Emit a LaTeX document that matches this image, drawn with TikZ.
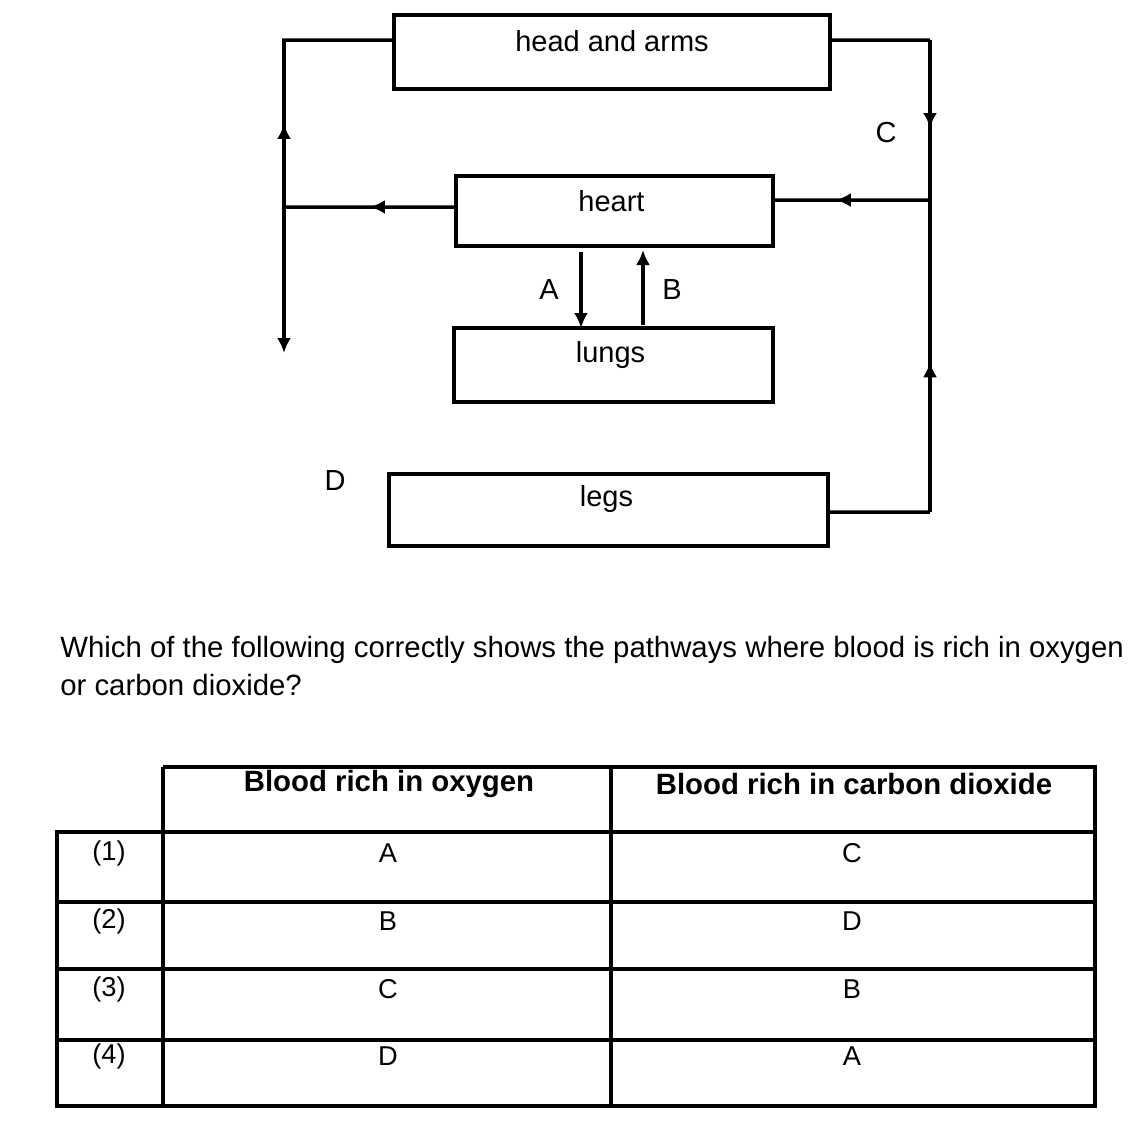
\documentclass[tikz,border=0pt]{standalone}
\usepackage{fontspec}
\setmainfont{Liberation Sans}
\usetikzlibrary{arrows.meta, positioning, calc, decorations.markings}

\begin{document}
\begin{tikzpicture}[x=0.2mm, y=-0.2mm,
  organ/.style={rectangle, draw, line width=2.4pt, inner sep=0pt, outer sep=0pt},
  otext/.style={font=\fontsize{16.5}{19}\selectfont, inner sep=1pt},
  conn/.style={line width=2pt},
  tip/.style={-{Latex[length=3mm, width=2.8mm]}},
  midarrow/.style={postaction={decorate}, decoration={markings,
      mark=at position #1 with {\arrow{Latex[length=3mm, width=2.8mm]}}}},
  midarrow/.default=0.5,
  question/.style={font=\fontsize{16.7}{21.5}\selectfont, align=left, inner sep=0pt},
  rule/.style={line width=2.3pt},
  head/.style={font=\bfseries\fontsize{16.7}{19}\selectfont},
  cell/.style={font=\fontsize{15.5}{18}\selectfont}
]
\useasboundingbox (0,0) rectangle (1132,1138);

% organs
\node[organ, minimum width=87.2mm, minimum height=14.8mm] (head) at (612,52) {};
\node[organ, minimum width=63.4mm, minimum height=14mm] (heart) at (614.5,211) {};
\node[organ, minimum width=63.8mm, minimum height=14.8mm] (lungs) at (613.5,365) {};
\node[organ, minimum width=87.8mm, minimum height=14.4mm] (legs) at (608.5,510) {};
\node[otext] (headtxt) at ($(head.north)+(0,26)$) {head and arms};
\node[otext] (hearttxt) at ($(heart.north)+(-3,25)$) {heart};
\node[otext] (lungstxt) at ($(lungs.north)+(-3,27)$) {lungs};
\node[otext] (legstxt) at ($(legs.north)+(-2,25)$) {legs};

% left side
\coordinate (ltop) at (284,40);
\coordinate (ljoin) at (284,207);
\coordinate (lend) at (284,353);
\draw[conn, midarrow=0.5] ($(heart.north west)+(0,31)$) -- (ljoin);
\draw[conn, midarrow=0.3] (ljoin) -- (ltop) -- ($(head.north west)+(0,25)$);
\draw[conn, tip] (ljoin) -- (lend);

% right side
\coordinate (rtop) at (930,40);
\coordinate (rjoin) at (930,200);
\coordinate (rbot) at (930,512);
\draw[conn] ($(head.north east)+(0,25)$) -- (rtop);
\draw[conn, midarrow=0.55] (rtop) -- (rjoin);
\draw[conn, midarrow=0.6] (rjoin) -- ($(heart.north east)+(0,24)$);
\draw[conn] ($(legs.north east)+(0,38)$) -- (rbot);
\draw[conn, midarrow=0.48] (rbot) -- (rjoin);

% heart and lungs
\coordinate (ax) at (581,0);
\coordinate (bx) at (643,0);
\draw[conn, tip, shorten <=1.2mm] (heart.south -| ax) -- (lungs.north -| ax);
\draw[conn, tip, shorten <=0.6mm, shorten >=0.8mm] (lungs.north -| bx) -- (heart.south -| bx);

\node[otext] (labA) at (549,290) {A};
\node[otext] (labB) at (672,290) {B};
\node[otext] (labC) at (886,133) {C};
\node[otext] (labD) at (335,481) {D};

% question
\node[question, anchor=north west] (ques) at (60,636) {Which of the following correctly shows the pathways where blood is rich in oxygen\\or carbon dioxide?};

% table
\draw[rule] (163,767) -- (1097,767);
\foreach \ry in {832, 902, 969, 1040, 1106}
  \draw[rule] (55,\ry) -- (1097,\ry);
\draw[rule] (57,832) -- (57,1106);
\foreach \rx in {163, 611, 1095}
  \draw[rule] (\rx,767) -- (\rx,1106);
\node[head] (hoxy) at (389,784) {Blood rich in oxygen};
\node[head] (hco) at (854,784) {Blood rich in carbon dioxide};
\foreach \n/\ox/\co/\ty in {1/A/C/853, 2/B/D/921, 3/C/B/989, 4/D/A/1056}{
  \node[cell] (num\n) at (109,\ty) {(\n)};
  \node[cell] (oxy\n) at (388,\ty) {\ox};
  \node[cell] (co\n) at (852,\ty) {\co};
}
\end{tikzpicture}
\end{document}
